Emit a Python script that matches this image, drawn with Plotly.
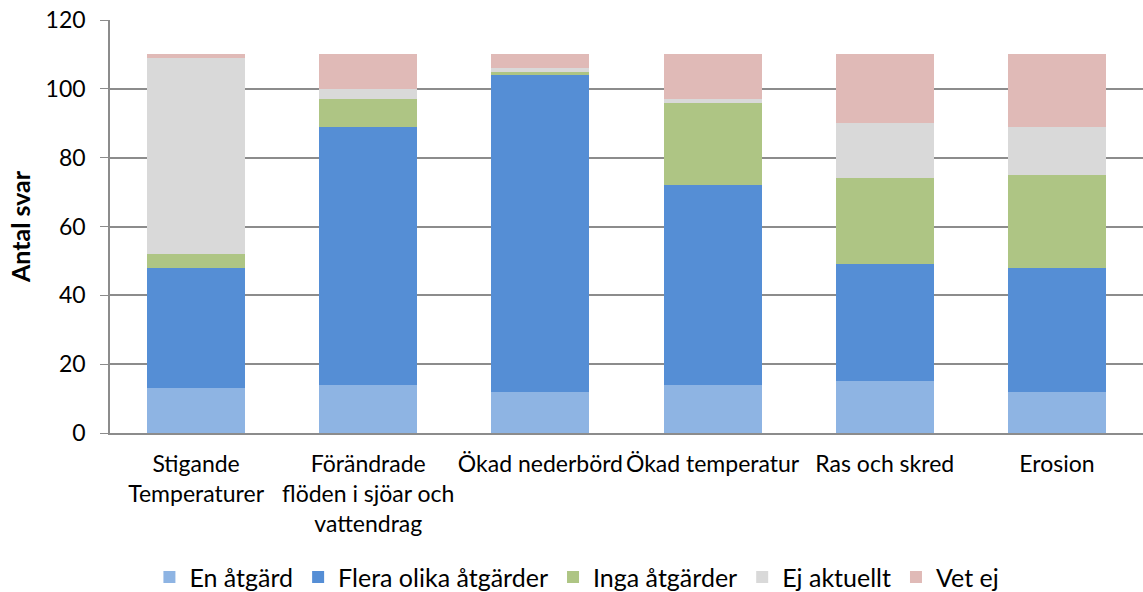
import plotly.graph_objects as go

categories = [
    "Stigande<br>Temperaturer",
    "Förändrade<br>flöden i sjöar och<br>vattendrag",
    "Ökad nederbörd",
    "Ökad temperatur",
    "Ras och skred",
    "Erosion",
]
en_atgard = [13, 14, 12, 14, 15, 12]
flera_atgarder = [35, 75, 92, 58, 34, 36]
inga_atgarder = [4, 8, 1, 24, 25, 27]
ej_aktuellt = [57, 3, 1, 1, 16, 14]
vet_ej = [1, 10, 4, 13, 20, 21]

series = [
    ("En åtgärd", en_atgard, "#8EB4E3"),
    ("Flera olika åtgärder", flera_atgarder, "#558ED5"),
    ("Inga åtgärder", inga_atgarder, "#AEC584"),
    ("Ej aktuellt", ej_aktuellt, "#D9D9D9"),
    ("Vet ej", vet_ej, "#E0BAB7"),
]

fig = go.Figure()
for name, vals, color in series:
    fig.add_trace(go.Bar(
        x=categories, y=vals, name=name,
        marker={"color": color, "line": {"width": 0}},
    ))

fig.update_layout(
    barmode="stack",
    bargap=0.43,
    width=1143, height=592,
    margin={"l": 110, "r": 0, "t": 20, "b": 159, "autoexpand": False},
    plot_bgcolor="white",
    paper_bgcolor="white",
    font={"family": "Lato, Open Sans, sans-serif", "size": 22, "color": "#000000"},
    legend={"orientation": "h", "x": 0.452, "xanchor": "center", "y": -0.349,
            "yanchor": "middle", "font": {"size": 25}, "traceorder": "normal",
            "itemwidth": 30},
    xaxis={"showline": True, "linecolor": "#8c8c8c", "linewidth": 1.5,
           "ticks": "", "tickfont": {"size": 23}, "automargin": False,
           "ticklabelstandoff": 10},
    yaxis={"range": [0, 120], "dtick": 20, "showgrid": True,
           "gridcolor": "#8c8c8c", "gridwidth": 1.5,
           "showline": True, "linecolor": "#8c8c8c", "linewidth": 1.5,
           "ticks": "outside", "ticklen": 8, "tickcolor": "#8c8c8c",
           "tickfont": {"size": 23}, "zeroline": False, "automargin": False,
           "ticklabelstandoff": 10,
           "title": {"text": "<b>Antal svar</b>", "font": {"size": 25}, "standoff": 8}},
)

fig.write_html(
    "out.html",
    config={"displayModeBar": False},
    post_script="document.body.style.margin='0';document.body.style.overflow='hidden';",
)
